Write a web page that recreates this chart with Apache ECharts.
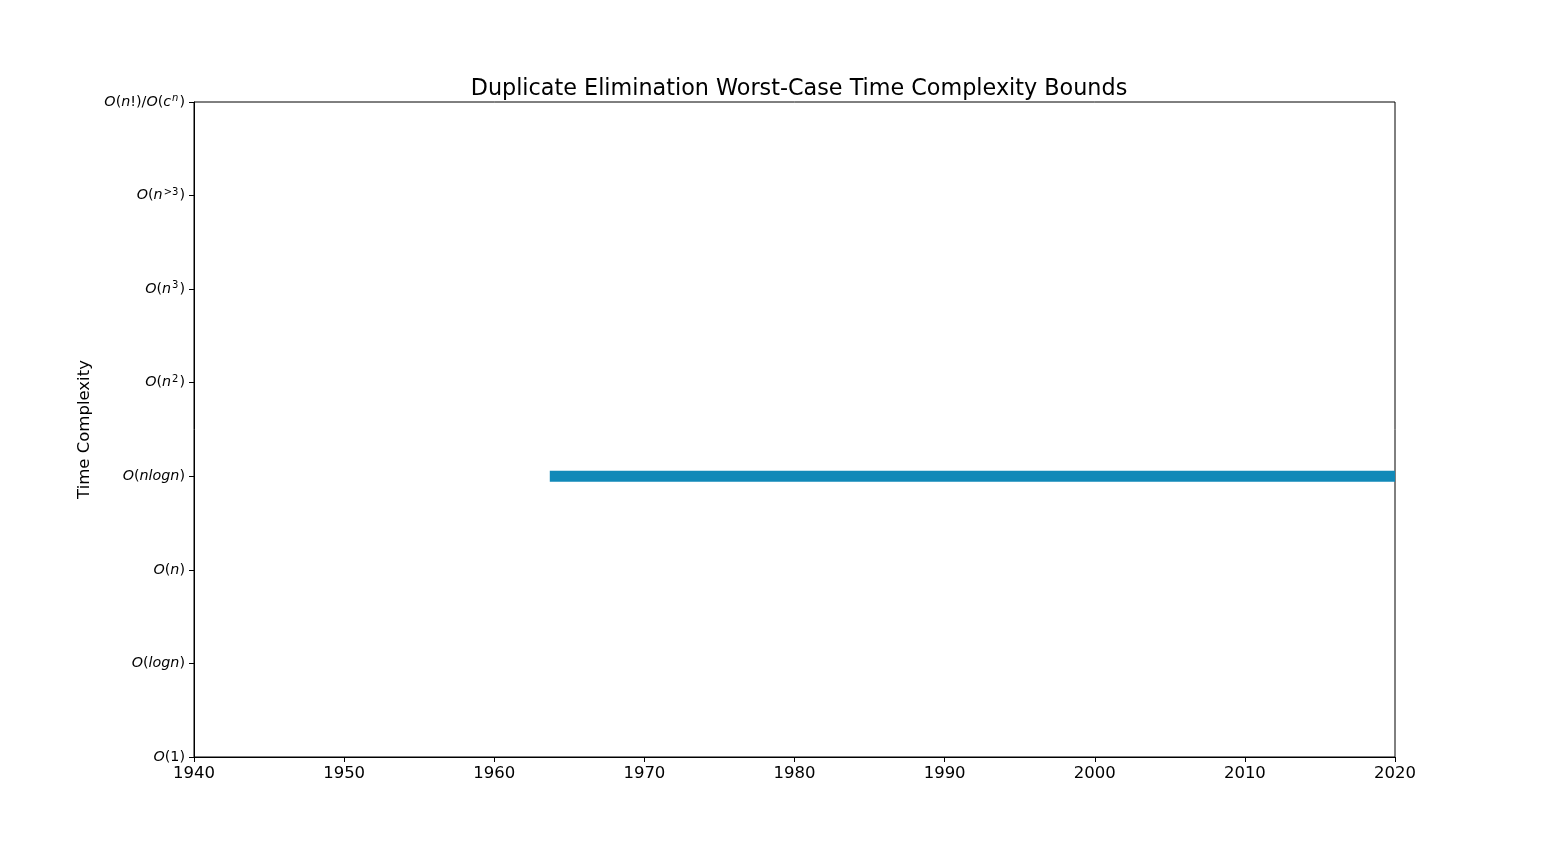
<!DOCTYPE html>
<html>
<head>
<meta charset="utf-8">
<script src="https://cdn.jsdelivr.net/npm/echarts@6/dist/echarts.min.js"></script>
<style>html,body{margin:0;padding:0;background:#fff;}#c{width:1550px;height:850px;}</style>
</head>
<body>
<div id="c"></div>
<script>
// Data
var complexityLabels = ['O(1)', 'O(logn)', 'O(n)', 'O(nlogn)', 'O(n^2)', 'O(n^3)', 'O(n^{>3})', 'O(n!)/O(c^n)'];
var boundYears = [1963.7, 2020];
var boundLevels = [3, 3];
var xTicks = [1940, 1950, 1960, 1970, 1980, 1990, 2000, 2010, 2020];

function toRich(s) {
  var out = '';
  var i = 0;
  while (i < s.length) {
    var ch = s[i];
    if (ch === '^') {
      var sup;
      if (s[i + 1] === '{') {
        var j = s.indexOf('}', i);
        sup = s.slice(i + 2, j);
        i = j + 1;
      } else {
        sup = s[i + 1];
        i += 2;
      }
      out += (/[A-Za-z]/.test(sup) ? '{si|' : '{s|') + sup + '}';
      continue;
    }
    if (/[A-Za-z]/.test(ch)) out += '{i|' + ch + '}';
    else out += '{r|' + ch + '}';
    i++;
  }
  return out;
}

var chart = echarts.init(document.getElementById('c'), null, {renderer: 'canvas'});
var seriesData = boundYears.map(function (y, k) { return [y, boundLevels[k]]; });

chart.setOption({
  animation: false,
  backgroundColor: '#fff',
  title: {
    text: 'Duplicate Elimination Worst-Case Time Complexity Bounds',
    left: 794, top: 73, textAlign: 'center',
    textStyle: {fontFamily: 'DejaVu Sans', fontSize: 22.3, fontWeight: 'normal', color: '#000'}
  },
  grid: {left: 194, right: 155, top: 102, bottom: 93, show: true, borderColor: '#000', borderWidth: 1, backgroundColor: 'transparent'},
  xAxis: {
    type: 'value', min: xTicks[0], max: xTicks[xTicks.length - 1], interval: 10,
    axisLine: {show: true, lineStyle: {color: '#000', width: 1}},
    axisTick: {show: true, length: 5, lineStyle: {color: '#000'}},
    axisLabel: {color: '#000', fontFamily: 'DejaVu Sans', fontSize: 16.5, margin: 8,
      formatter: function (v) { return String(v); }},
    splitLine: {show: false}
  },
  yAxis: {
    type: 'value', min: 0, max: complexityLabels.length - 1, interval: 1,
    name: 'Time Complexity', nameLocation: 'middle', nameGap: 97, nameRotate: 90,
    nameTextStyle: {fontFamily: 'DejaVu Sans', fontSize: 16.5, color: '#000'},
    axisLine: {show: true, lineStyle: {color: '#000', width: 1}},
    axisTick: {show: true, length: 5, lineStyle: {color: '#000'}},
    axisLabel: {
      color: '#000', margin: 9,
      formatter: function (v) { return toRich(complexityLabels[Math.round(v)] || ''); },
      rich: {
        i: {fontFamily: 'DejaVu Sans', fontStyle: 'italic', fontSize: 14.3, color: '#000'},
        r: {fontFamily: 'DejaVu Sans', fontSize: 14.3, color: '#000'},
        s: {fontFamily: 'DejaVu Sans', fontSize: 10, color: '#000', verticalAlign: 'top', padding: [0, 1, 7, 1]},
        si: {fontFamily: 'DejaVu Sans', fontStyle: 'italic', fontSize: 10, color: '#000', verticalAlign: 'top', padding: [0, 1, 7, 1]}
      }
    },
    splitLine: {show: false}
  },
  series: [{
    type: 'line',
    data: seriesData,
    symbol: 'none',
    clip: true,
    lineStyle: {color: '#1189b8', width: 11, cap: 'butt'}
  }]
});
</script>
</body>
</html>
